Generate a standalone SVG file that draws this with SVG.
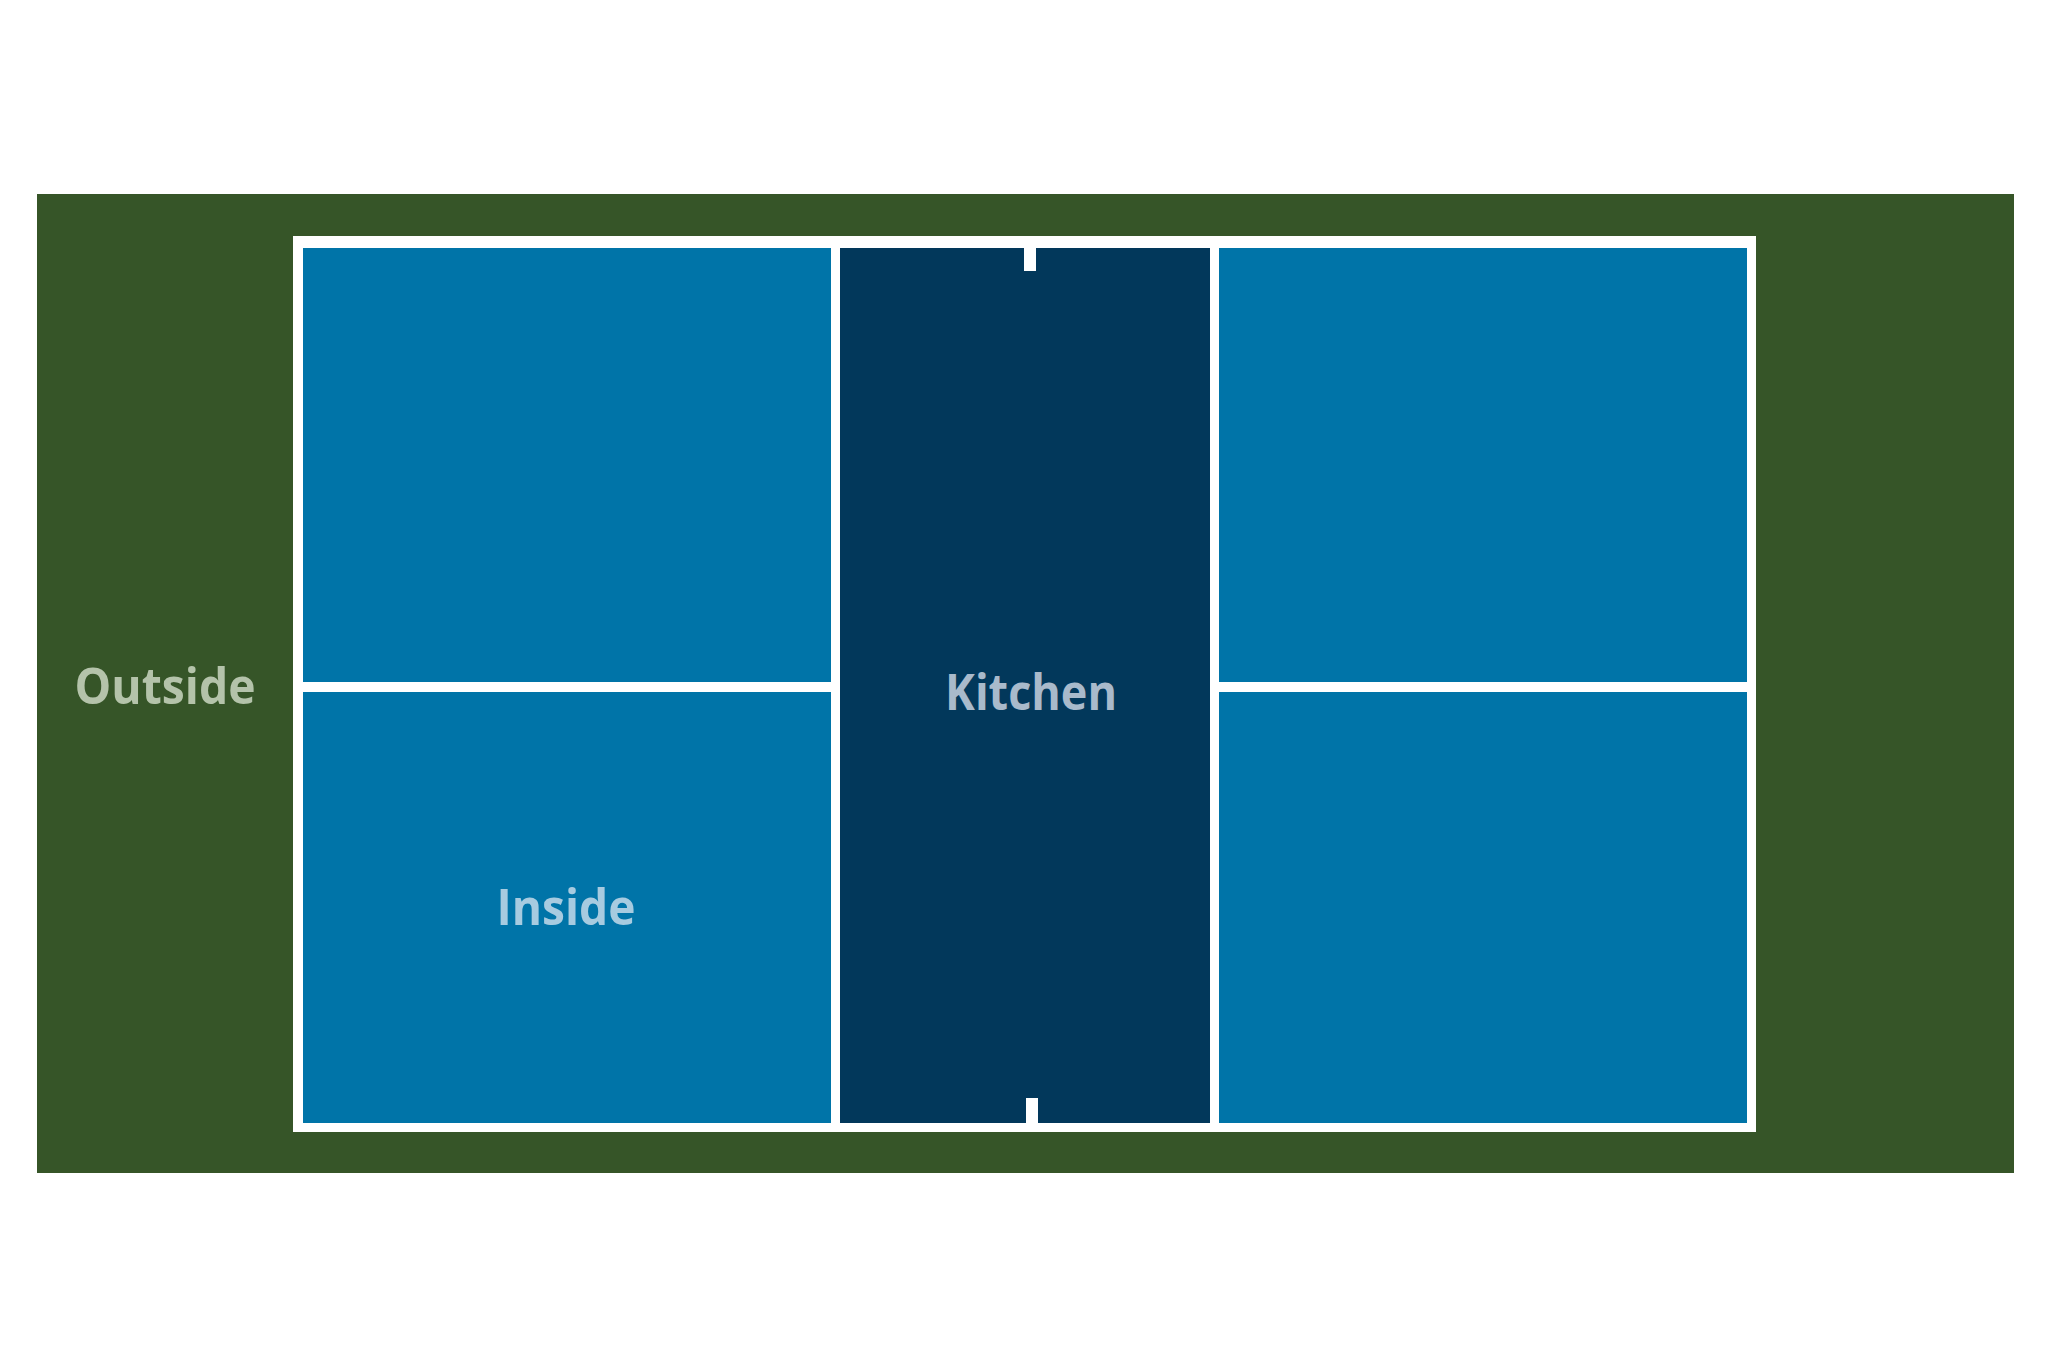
<svg xmlns="http://www.w3.org/2000/svg" width="2050" height="1367" viewBox="0 0 2050 1367">
<style>
.court{fill:#0074a8}
.kitchen{fill:#02385b}
.line{fill:#ffffff}
.lbl{font-family:"Open Sans","Liberation Sans",sans-serif;font-weight:bold;font-size:50px;text-anchor:middle}
</style>
<rect width="2050" height="1367" fill="#ffffff"/>
<g id="outside">
<rect x="37" y="194" width="1977" height="979" fill="#365528"/>
<text class="lbl" x="165" y="704" fill="#b4c3aa" textLength="181" lengthAdjust="spacingAndGlyphs">Outside</text>
</g>
<g id="court-lines">
<rect class="line" x="293" y="236" width="1463" height="896"/>
</g>
<g id="inside-left-top"><rect class="court" x="303" y="248" width="528" height="434"/></g>
<g id="inside-left-bottom">
<rect class="court" x="303" y="692" width="528" height="431"/>
<text class="lbl" x="566" y="925" fill="#a7cbe0" textLength="139" lengthAdjust="spacingAndGlyphs">Inside</text>
</g>
<g id="kitchen">
<rect class="kitchen" x="840" y="248" width="370" height="875"/>
<rect class="line" x="1024" y="248" width="12" height="23"/>
<rect class="line" x="1026" y="1098" width="12" height="25"/>
<text class="lbl" x="1031" y="710" fill="#a9bacb" textLength="172" lengthAdjust="spacingAndGlyphs">Kitchen</text>
</g>
<g id="inside-right-top"><rect class="court" x="1219" y="248" width="528" height="434"/></g>
<g id="inside-right-bottom"><rect class="court" x="1219" y="692" width="528" height="431"/></g>
<g id="connectors"></g>
</svg>
